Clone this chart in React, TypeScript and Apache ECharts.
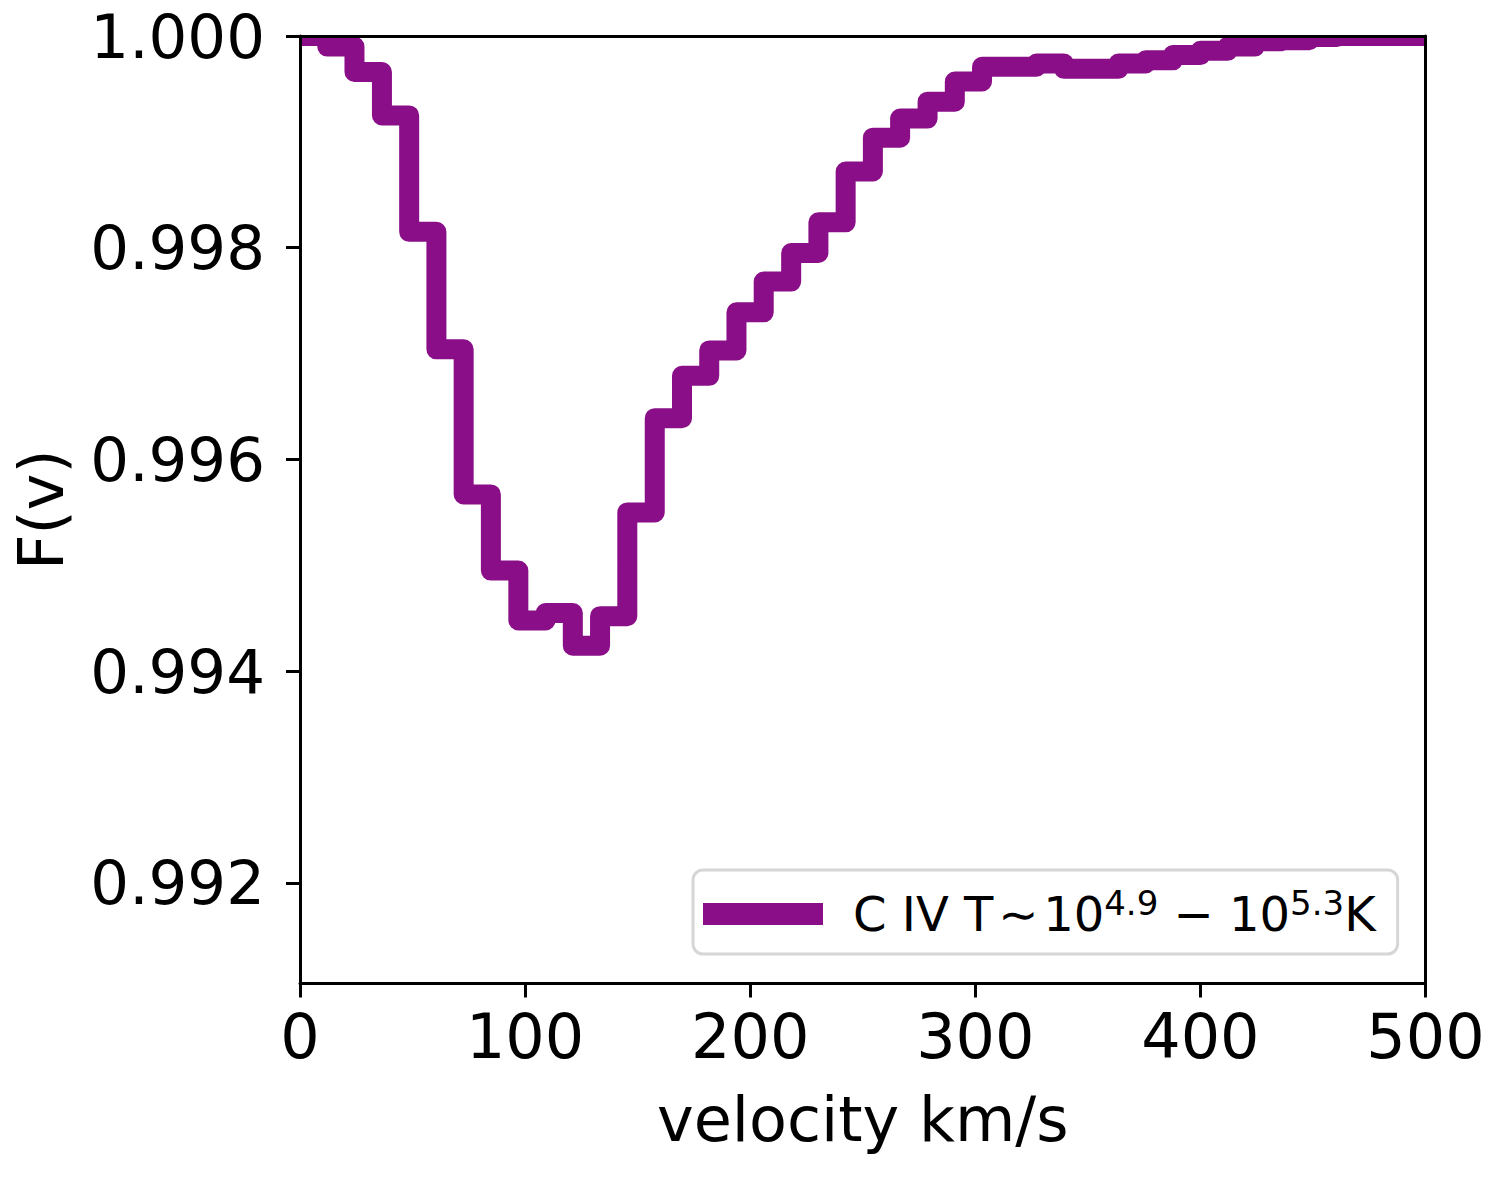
import React, { useEffect, useRef } from "react";
import * as echarts from "echarts";

// Step edges (km/s)
const velocity = [
  0, 12.1, 24.2, 36.4, 48.5, 60.6, 72.7, 84.8, 97.0, 109.1, 121.2, 133.3, 145.4,
  157.6, 169.7, 181.8, 193.9, 206.0, 218.2, 230.3, 242.4, 254.5, 266.6, 278.8,
  290.9, 303.0, 315.1, 327.2, 339.4, 351.5, 363.6, 375.7, 387.8, 400.0, 412.1,
  424.2, 436.3, 448.4, 460.6, 472.7, 484.8, 497.0, 500,
];

// Flux value held over each step
const flux = [
  1.0, 0.9999, 0.99966, 0.99925, 0.99815, 0.99704, 0.99567, 0.99495, 0.99448,
  0.99455, 0.99424, 0.99452, 0.9955, 0.99639, 0.99679, 0.99703, 0.99739,
  0.99768, 0.99795, 0.99824, 0.99872, 0.99904, 0.99922, 0.99938, 0.99957,
  0.99971, 0.99971, 0.99974, 0.99969, 0.99969, 0.99974, 0.99977, 0.99982,
  0.99986, 0.9999, 0.99995, 0.99996, 0.99999, 1.0, 1.0, 1.0, 1.0, 1.0,
];

const yTicks = [0.992, 0.994, 0.996, 0.998, 1.0];
const xTicks = [0, 100, 200, 300, 400, 500];

const seriesName = "C IV";
const PURPLE = "#890e87";
const FONT = "DejaVu Sans";

export default function App() {
  const ref = useRef<HTMLDivElement>(null);

  useEffect(() => {
    if (!ref.current) return;
    const chart = echarts.init(ref.current, null, { renderer: "svg" });
    const gridLeft = 300;
    const gridTop = 36;
    const gridRight = 1425.5;
    const gridBottom = 983.5;

    const axisLine = { show: true, onZero: false, lineStyle: { color: "#000", width: 3 } };
    const option = {
      animation: false,
      backgroundColor: "#fff",
      grid: {
        left: gridLeft,
        top: gridTop,
        right: 1500 - gridRight,
        bottom: 1200 - gridBottom,
        containLabel: false,
      },
      xAxis: [
        {
          type: "value",
          min: 0,
          max: 500,
          interval: 100,
          position: "bottom",
          z: 10,
          axisLine,
          axisTick: {
            show: true,
            length: 14,
            lineStyle: { color: "#000", width: 3 },
            customValues: xTicks,
          },
          axisLabel: {
            fontSize: 62,
            fontFamily: FONT,
            color: "#000",
            margin: 22,
            customValues: xTicks,
          },
          splitLine: { show: false },
          name: "velocity km/s",
          nameLocation: "middle",
          nameGap: 105,
          nameTextStyle: { fontSize: 62, fontFamily: FONT, color: "#000" },
        },
        {
          type: "value",
          min: 0,
          max: 500,
          position: "top",
          z: 10,
          axisLine,
          axisTick: { show: false },
          axisLabel: { show: false },
          splitLine: { show: false },
        },
      ],
      yAxis: [
        {
          type: "value",
          min: 0.99105,
          max: 1.0,
          position: "left",
          z: 10,
          axisLine,
          axisTick: {
            show: true,
            length: 14,
            lineStyle: { color: "#000", width: 3 },
            customValues: yTicks,
          },
          axisLabel: {
            fontSize: 61,
            fontFamily: FONT,
            color: "#000",
            margin: 35,
            customValues: yTicks,
            formatter: (v: number) => v.toFixed(3),
          },
          splitLine: { show: false },
          name: "F(v)",
          nameLocation: "middle",
          nameGap: 228,
          nameTextStyle: { fontSize: 62, fontFamily: FONT, color: "#000" },
        },
        {
          type: "value",
          min: 0.99105,
          max: 1.0,
          position: "right",
          z: 10,
          axisLine,
          axisTick: { show: false },
          axisLabel: { show: false },
          splitLine: { show: false },
        },
      ],
      legend: {
        show: true,
        left: 693,
        top: 870,
        orient: "horizontal",
        icon: "rect",
        itemWidth: 120,
        itemHeight: 22,
        padding: [16, 22, 16, 10],
        borderColor: "#d6d6d6",
        borderWidth: 3,
        borderRadius: 10,
        backgroundColor: "rgba(255,255,255,0.8)",
        itemStyle: { color: PURPLE },
        data: [seriesName],
        formatter: () => "{a|C IV T\u200a∼\u200a10}{s|4.9}{a| − 10}{s|5.3}{a|K}",
        textStyle: {
          fontFamily: FONT,
          fontSize: 48,
          color: "#000",
          padding: [0, 0, 0, 25],
          rich: {
            a: { fontFamily: FONT, fontSize: 48, lineHeight: 56, color: "#000" },
            s: {
              fontFamily: FONT,
              fontSize: 34,
              lineHeight: 22,
              verticalAlign: "top",
              color: "#000",
            },
          },
        },
      },
      graphic: [
        {
          type: "rect",
          z: 5,
          silent: true,
          shape: { x: gridLeft - 4, y: 0, width: gridRight - gridLeft + 24, height: gridTop },
          style: { fill: "#fff" },
        },
      ],
      series: [
        {
          name: seriesName,
          type: "line",
          step: "end",
          xAxisIndex: 0,
          yAxisIndex: 0,
          showSymbol: false,
          symbol: "none",
          z: 2,
          lineStyle: { color: PURPLE, width: 20, join: "round", cap: "butt" },
          itemStyle: { color: PURPLE },
          data: velocity.map((v, i) => [v, flux[i]]),
        },
      ],
    };
    chart.setOption(option as any);
    return () => chart.dispose();
  }, []);

  return (
    <div
      ref={ref}
      style={{ position: "absolute", left: 0, top: 0, width: 1500, height: 1200 }}
    />
  );
}
